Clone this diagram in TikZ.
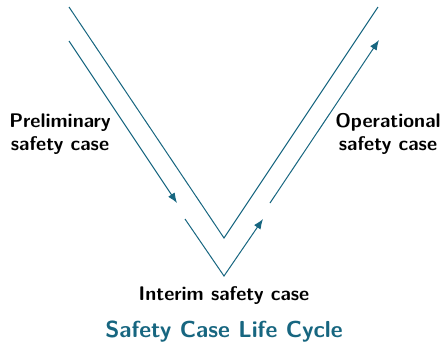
\documentclass[tikz,border=0pt]{standalone}
\usetikzlibrary{arrows.meta}
\definecolor{vteal}{RGB}{23,102,128}
\tikzset{
	vline/.style={line width=0.7pt, color=vteal},
	varrow/.style={vline, -{Latex[length=7pt,width=5.5pt]}},
	phase/.style={font=\sffamily\bfseries\fontsize{13.8}{16.1}\selectfont, align=center, inner sep=0pt},
}

\begin{document}
\begin{tikzpicture}[x=0.7pt, y=-0.7pt]
			%%%%% START %%%%%
			\useasboundingbox (0, 0) rectangle (441, 349);
			
			\coordinate (outerL) at (69, 7);
			\coordinate (outerB) at (224, 238);
			\coordinate (outerR) at (378, 7);
			\draw[vline] (outerL) -- (outerB) -- (outerR);
			
			\coordinate (prelimS) at (69, 41);
			\coordinate (prelimE) at (177, 203);
			\draw[varrow] (prelimS) -- (prelimE);
			
			\coordinate (interL) at (185, 219);
			\coordinate (interB) at (224, 276);
			\coordinate (interE) at (263, 219);
			\draw[varrow] (interL) -- (interB) -- (interE);
			
			\coordinate (operS) at (270, 203);
			\coordinate (operE) at (379, 40);
			\draw[varrow] (operS) -- (operE);
			
			\node[phase] (prelim) at (60, 134) {Preliminary\\safety case};
			\node[phase] (oper) at (388, 134) {Operational\\safety case};
			\node[phase] (interim) at (224, 296) {Interim safety case};
			
			\node[font=\sffamily\bfseries\fontsize{16.2}{19}\selectfont, color=vteal] (title) at (224, 332) {Safety Case Life Cycle};
			
			%%%%% END %%%%%
\end{tikzpicture}
\end{document}
